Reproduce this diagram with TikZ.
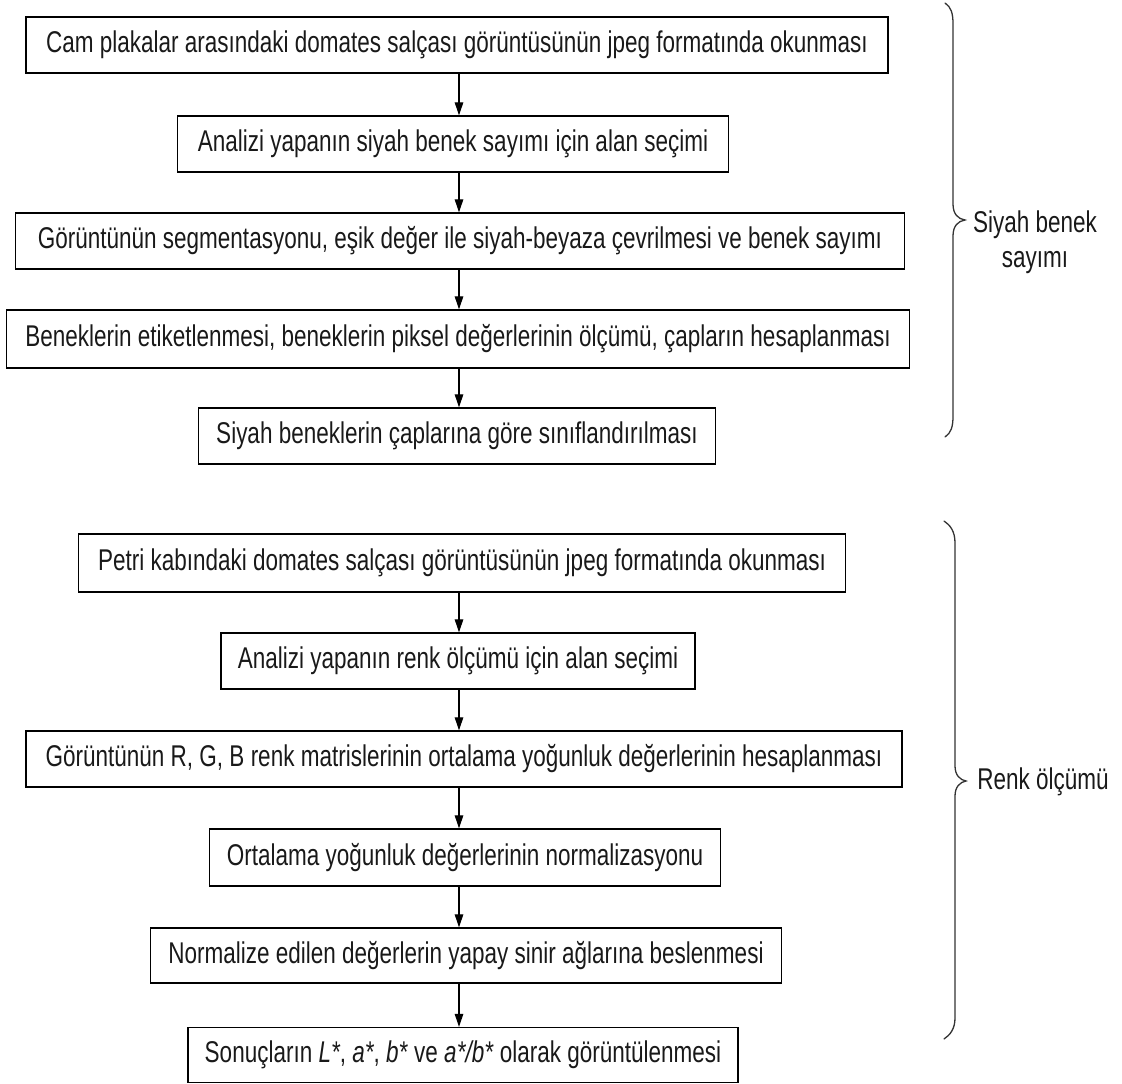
\documentclass[tikz,border=0pt]{standalone}
\usepackage{fontspec}
\setmainfont[FakeStretch=0.75]{Liberation Sans}
\usetikzlibrary{arrows.meta}
\tikzset{
  stepbox/.style={draw=black, line width=1.3pt, rectangle, inner sep=0pt, align=center, font=\fontsize{30}{34}\selectfont, text=black!90},
  arr/.style={line width=1.2pt, -{Triangle[length=13pt,width=8.5pt]}},
  bracepath/.style={line width=1.3pt, draw=black!80, line cap=round},
  bracelabel/.style={align=center, font=\fontsize{30}{35}\selectfont, text=black!90}
}
\begin{document}
\begin{tikzpicture}[x=1pt,y=-1pt]
\useasboundingbox (0,0) rectangle (1122,1084);
\coordinate (ax) at (459,0);
% upper group
\node[stepbox, minimum width=862pt, minimum height=56pt] (b1) at (457,45) {Cam plakalar arasındaki domates salçası görüntüsünün jpeg formatında okunması};
\node[stepbox, minimum width=551pt, minimum height=56pt] (b2) at (453,144) {Analizi yapanın siyah benek sayımı için alan seçimi};
\node[stepbox, minimum width=889pt, minimum height=56pt] (b3) at (460,241) {Görüntünün segmentasyonu, eşik değer ile siyah-beyaza çevrilmesi ve benek sayımı};
\node[stepbox, minimum width=903pt, minimum height=58pt] (b4) at (458,339) {Beneklerin etiketlenmesi, beneklerin piksel değerlerinin ölçümü, çapların hesaplanması};
\node[stepbox, minimum width=517pt, minimum height=56pt] (b5) at (457,436) {Siyah beneklerin çaplarına göre sınıflandırılması};
% lower group
\node[stepbox, minimum width=767pt, minimum height=58pt] (b6) at (462,563) {Petri kabındaki domates salçası görüntüsünün jpeg formatında okunması};
\node[stepbox, minimum width=474pt, minimum height=56pt] (b7) at (458,661) {Analizi yapanın renk ölçümü için alan seçimi};
\node[stepbox, minimum width=876pt, minimum height=56pt] (b8) at (464,759) {Görüntünün R, G, B renk matrislerinin ortalama yoğunluk değerlerinin hesaplanması};
\node[stepbox, minimum width=511pt, minimum height=57pt] (b9) at (465,857.5) {Ortalama yoğunluk değerlerinin normalizasyonu};
\node[stepbox, minimum width=631pt, minimum height=55pt] (b10) at (466,955.5) {Normalize edilen değerlerin yapay sinir ağlarına beslenmesi};
\node[stepbox, minimum width=550pt, minimum height=55pt] (b11) at (463,1055) {Sonuçların \textit{L*}, \textit{a*}, \textit{b*} ve \textit{a*/b*} olarak görüntülenmesi};
% arrows
\foreach \a/\b in {b1/b2,b2/b3,b3/b4,b4/b5,b6/b7,b7/b8,b8/b9,b9/b10,b10/b11}
  \draw[arr] (\a.south -| ax) -- (\b.north -| ax);
% braces
\draw[bracepath] (945,3) .. controls (951,7) and (953,13) .. (953,24) -- (953,204)
  .. controls (953,214) and (958,219) .. (965,220)
  .. controls (958,221) and (953,226) .. (953,236) -- (953,416)
  .. controls (953,427) and (951,433) .. (945,437);
\draw[bracepath] (944,521) .. controls (950,525) and (955,531) .. (955,543) -- (955,766)
  .. controls (955,775) and (960,780) .. (966,781)
  .. controls (960,782) and (955,787) .. (955,796) -- (955,1018)
  .. controls (955,1029) and (950,1035) .. (944,1039);
\node[bracelabel] (l1) at (1035,242) {Siyah benek\\sayımı};
\node[bracelabel] (l2) at (1043,782) {Renk ölçümü};
\end{tikzpicture}
\end{document}
